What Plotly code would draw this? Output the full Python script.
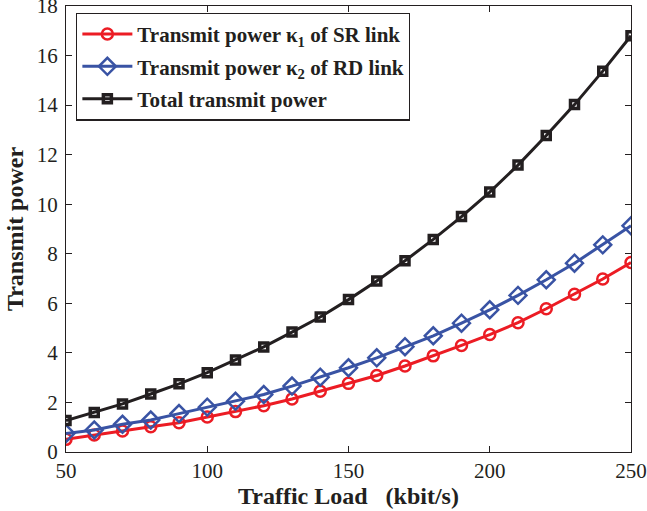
import plotly.graph_objects as go

traffic_load = [50, 60, 70, 80, 90, 100, 110, 120, 130, 140, 150, 160, 170, 180, 190, 200, 210, 220, 230, 240, 250]
power_sr = [0.51, 0.69, 0.85, 1.02, 1.18, 1.41, 1.63, 1.87, 2.14, 2.45, 2.77, 3.09, 3.47, 3.88, 4.30, 4.74, 5.22, 5.78, 6.37, 6.98, 7.65]
power_rd = [0.75, 0.89, 1.12, 1.29, 1.55, 1.81, 2.05, 2.32, 2.66, 3.02, 3.40, 3.80, 4.25, 4.69, 5.20, 5.74, 6.32, 6.95, 7.62, 8.36, 9.13]
power_total = [1.27, 1.59, 1.94, 2.34, 2.75, 3.20, 3.71, 4.24, 4.84, 5.45, 6.15, 6.90, 7.72, 8.58, 9.50, 10.49, 11.58, 12.77, 14.02, 15.37, 16.80]

names = ["Transmit power κ<sub>1</sub> of SR link",
         "Transmit power κ<sub>2</sub> of RD link",
         "Total transmit power"]
x_ticks = [50, 100, 150, 200, 250]
y_ticks = [0, 2, 4, 6, 8, 10, 12, 14, 16, 18]

font = "Liberation Serif, Times New Roman, serif"

fig = go.Figure()
fig.add_trace(go.Scatter(x=traffic_load, y=power_sr, name="<b>" + names[0] + "</b>", mode="lines+markers",
                         legendgroup="a",
                         line=dict(color="#ec1c24", width=3),
                         marker=dict(symbol="circle-open", size=11, color="#ec1c24", line=dict(width=2.5))))
fig.add_trace(go.Scatter(x=traffic_load, y=power_rd, name="<b>" + names[1] + "</b>", mode="lines+markers",
                         legendgroup="b",
                         line=dict(color="#3953a4", width=3),
                         marker=dict(symbol="diamond-open", size=13, color="#3953a4", line=dict(width=2.5))))
fig.add_trace(go.Scatter(x=traffic_load, y=power_total, name="<b>" + names[2] + "</b>", mode="lines+markers",
                         legendgroup="c",
                         line=dict(color="#231f20", width=3),
                         marker=dict(symbol="square-open", size=8, color="#231f20", line=dict(width=3.5))))

axis_common = dict(showgrid=False, zeroline=False, showline=True, linecolor="#231f20", linewidth=1.2,
                   mirror="ticks", ticks="inside", ticklen=6, tickcolor="#231f20",
                   automargin=False, ticklabeloverflow="allow",
                   tickfont=dict(family=font, size=21, color="#231f20"))

fig.update_layout(
    width=647, height=511,
    margin=dict(l=66, r=16, t=6, b=59),
    paper_bgcolor="white", plot_bgcolor="white",
    font=dict(family=font, color="#231f20"),
    xaxis=dict(range=[50, 250], tickvals=x_ticks,
               title=dict(text="<b>Traffic Load   (kbit/s)</b>", font=dict(family=font, size=24), standoff=2),
               **axis_common),
    yaxis=dict(range=[0, 18], tickvals=y_ticks, ticklabelstandoff=3,
               title=dict(text="<b>Transmit power</b>", font=dict(family=font, size=24), standoff=6),
               **axis_common),
    legend=dict(x=0.018, y=0.985, xanchor="left", yanchor="top",
                bgcolor="white", bordercolor="#231f20", borderwidth=1.2,
                font=dict(family=font, size=21, color="#231f20"),
                itemwidth=50, tracegroupgap=2),
    showlegend=True,
)

fig.write_html("out.html", config={"displayModeBar": False},
               post_script="document.body.style.margin='0';document.body.style.overflow='hidden';")
